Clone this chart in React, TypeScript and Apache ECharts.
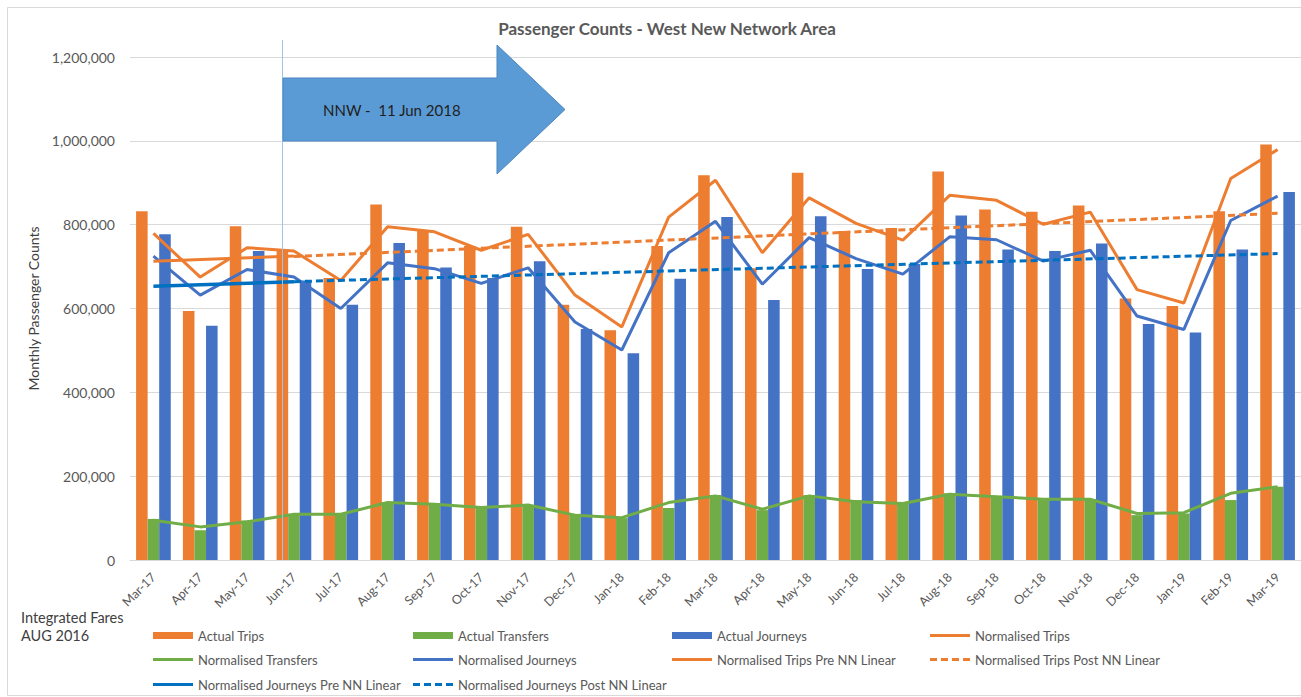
import React, { useEffect, useRef } from "react";
import * as echarts from "echarts";

const categories = [
  "Mar-17", "Apr-17", "May-17", "Jun-17", "Jul-17", "Aug-17", "Sep-17", "Oct-17", "Nov-17",
  "Dec-17", "Jan-18", "Feb-18", "Mar-18", "Apr-18", "May-18", "Jun-18", "Jul-18", "Aug-18",
  "Sep-18", "Oct-18", "Nov-18", "Dec-18", "Jan-19", "Feb-19", "Mar-19",
];

const actualTrips = [
  832000, 594000, 796000, 737000, 673000, 848000, 787000, 749000, 795000, 609000, 548000, 749000,
  918000, 696000, 924000, 785000, 792000, 927000, 836000, 831000, 846000, 624000, 606000, 832000, 991000,
];
const actualTransfers = [
  98000, 71000, 94000, 110000, 111000, 138000, 135000, 127000, 131000, 110000, 100000, 124000,
  155000, 119000, 155000, 143000, 137000, 159000, 151000, 143000, 145000, 107000, 111000, 143000, 175000,
];
const actualJourneys = [
  777000, 559000, 737000, 667000, 609000, 756000, 698000, 673000, 713000, 551000, 493000, 671000,
  818000, 620000, 820000, 694000, 706000, 822000, 741000, 737000, 755000, 563000, 543000, 741000, 878000,
];
const normalisedTrips = [
  779000, 675000, 745000, 737000, 667000, 795000, 783000, 739000, 777000, 632000, 556000, 818000,
  906000, 733000, 864000, 803000, 763000, 870000, 858000, 801000, 830000, 645000, 613000, 910000, 979000,
];
const normalisedTransfers = [
  95000, 79000, 91000, 109000, 109000, 137000, 133000, 125000, 131000, 107000, 101000, 137000,
  153000, 121000, 153000, 139000, 135000, 157000, 151000, 145000, 145000, 111000, 113000, 159000, 175000,
];
const normalisedJourneys = [
  725000, 632000, 693000, 675000, 600000, 709000, 695000, 660000, 697000, 568000, 501000, 733000,
  808000, 658000, 769000, 719000, 682000, 771000, 764000, 713000, 739000, 582000, 550000, 810000, 868000,
];

// Linear trend lines: end points only
const tripsPreLinear = [["Mar-17", 713000], ["Jun-17", 725000]];
const tripsPostLinear = [["Jun-17", 724000], ["Mar-19", 827000]];
const journeysPreLinear = [["Mar-17", 653000], ["Jun-17", 664000]];
const journeysPostLinear = [["Jun-17", 664000], ["Mar-19", 731000]];

const yTicks = { min: 0, max: 1200000, interval: 200000 };

const ORANGE = "#ED7D31";
const GREEN = "#70AD47";
const BLUE = "#4472C4";
const DARKBLUE = "#0070C0";
const FONT = "Lato, 'Open Sans', sans-serif";
const DASH_ICON = "path://M0 0h7v3h-7zM11 0h7v3h-7zM22 0h7v3h-7zM33 0h7v3h-7z";

export default function App() {
  const ref = useRef<HTMLDivElement>(null);

  useEffect(() => {
    if (!ref.current) return;
    const chart = echarts.init(ref.current, undefined, { renderer: "svg" });

    const lineBase = (name: string, data: any, color: string, width: number, dashed = false) => ({
      name,
      type: "line",
      data,
      symbol: "none",
      showSymbol: false,
      connectNulls: true,
      itemStyle: { color },
      lineStyle: { color, width, type: dashed ? [7, 4] : "solid" },
      z: 3,
    });

    const legendItem = (name: string, left: number, centerY: number, icon: string, iconH: number) => ({
      data: [name],
      icon,
      left,
      top: centerY - 7,
      padding: 0,
      itemWidth: 40,
      itemHeight: iconH,
      itemGap: 5,
      selectedMode: false,
      textStyle: { color: "#595959", fontSize: 13, fontFamily: FONT },
    });

    chart.setOption({
      animation: false,
      backgroundColor: "#ffffff",
      textStyle: { fontFamily: FONT },
      grid: { left: 130, right: -7, top: 57, bottom: 137, containLabel: false },
      xAxis: {
        type: "category",
        data: categories,
        axisTick: { show: false },
        axisLine: { lineStyle: { color: "#D9D9D9", width: 1 } },
        axisLabel: { rotate: 45, color: "#595959", fontSize: 12.5, fontFamily: FONT, margin: 15, interval: 0 },
      },
      yAxis: {
        type: "value",
        min: yTicks.min,
        max: yTicks.max,
        interval: yTicks.interval,
        name: "Monthly Passenger Counts",
        nameLocation: "middle",
        nameGap: 83,
        nameTextStyle: { color: "#404040", fontSize: 14, fontFamily: FONT },
        axisLine: { show: false },
        axisTick: { show: false },
        splitLine: { lineStyle: { color: "#D9D9D9", width: 1 } },
        axisLabel: {
          color: "#595959",
          fontSize: 14,
          fontFamily: FONT,
          margin: 15,
          formatter: (v: number) => v.toLocaleString("en-US"),
        },
      },
      legend: [
        legendItem("Actual Trips", 153, 636, "rect", 7),
        legendItem("Actual Transfers", 413, 636, "rect", 7),
        legendItem("Actual Journeys", 672, 636, "rect", 7),
        legendItem("Normalised Trips", 930, 636, "rect", 3),
        legendItem("Normalised Transfers", 153, 660, "rect", 3),
        legendItem("Normalised Journeys", 413, 660, "rect", 3),
        legendItem("Normalised Trips Pre NN Linear", 672, 660, "rect", 3),
        legendItem("Normalised Trips Post NN Linear", 930, 660, DASH_ICON, 3),
        legendItem("Normalised Journeys Pre NN Linear", 153, 685, "rect", 3),
        legendItem("Normalised Journeys Post NN Linear", 413, 685, DASH_ICON, 3),
      ],
      series: [
        { name: "Actual Trips", type: "bar", data: actualTrips, itemStyle: { color: ORANGE }, barGap: "0%", barCategoryGap: "26%" },
        { name: "Actual Transfers", type: "bar", data: actualTransfers, itemStyle: { color: GREEN }, barGap: "0%", barCategoryGap: "26%" },
        { name: "Actual Journeys", type: "bar", data: actualJourneys, itemStyle: { color: BLUE }, barGap: "0%", barCategoryGap: "26%" },
        lineBase("Normalised Trips", normalisedTrips, ORANGE, 3),
        lineBase("Normalised Transfers", normalisedTransfers, GREEN, 3),
        lineBase("Normalised Journeys", normalisedJourneys, BLUE, 3),
        lineBase("Normalised Trips Pre NN Linear", tripsPreLinear, ORANGE, 3),
        lineBase("Normalised Trips Post NN Linear", tripsPostLinear, ORANGE, 3, true),
        lineBase("Normalised Journeys Pre NN Linear", journeysPreLinear, DARKBLUE, 3.5),
        lineBase("Normalised Journeys Post NN Linear", journeysPostLinear, DARKBLUE, 3, true),
      ],
      graphic: [
        {
          type: "rect",
          shape: { x: 7.5, y: 7.5, width: 1330, height: 688 },
          style: { fill: "none", stroke: "#D9D9D9", lineWidth: 1 },
          silent: true,
          z: -1,
        },
        {
          type: "text",
          x: 667,
          y: 28,
          style: {
            text: "Passenger Counts - West New Network Area",
            textAlign: "center",
            textVerticalAlign: "middle",
            fill: "#595959",
            font: `bold 17px ${FONT}`,
          },
        },
        {
          type: "line",
          shape: { x1: 282.5, y1: 40, x2: 282.5, y2: 560 },
          style: { stroke: "#9DC3E6", lineWidth: 1 },
          z: 20,
        },
        {
          type: "polygon",
          shape: {
            points: [
              [283, 78], [497, 78], [497, 45], [565, 109.5], [497, 174], [497, 141], [283, 141],
            ],
          },
          style: { fill: "#5B9BD5", stroke: "#4A86C0", lineWidth: 1 },
          z: 21,
        },
        {
          type: "text",
          x: 323,
          y: 110,
          style: {
            text: "NNW -  11 Jun 2018",
            textVerticalAlign: "middle",
            fill: "#1F1F1F",
            font: `15px ${FONT}`,
          },
          z: 22,
        },
        {
          type: "text",
          x: 21,
          y: 617,
          style: { text: "Integrated Fares", textVerticalAlign: "middle", fill: "#404040", font: `14.5px ${FONT}` },
        },
        {
          type: "text",
          x: 21,
          y: 635,
          style: { text: "AUG 2016", textVerticalAlign: "middle", fill: "#404040", font: `14.5px ${FONT}` },
        },
      ],
    });

    return () => chart.dispose();
  }, []);

  return (
    <div style={{ position: "fixed", left: 0, top: 0, width: 1301, height: 697, overflow: "hidden", background: "#fff" }}>
      <div ref={ref} style={{ width: 1301, height: 697 }} />
    </div>
  );
}
